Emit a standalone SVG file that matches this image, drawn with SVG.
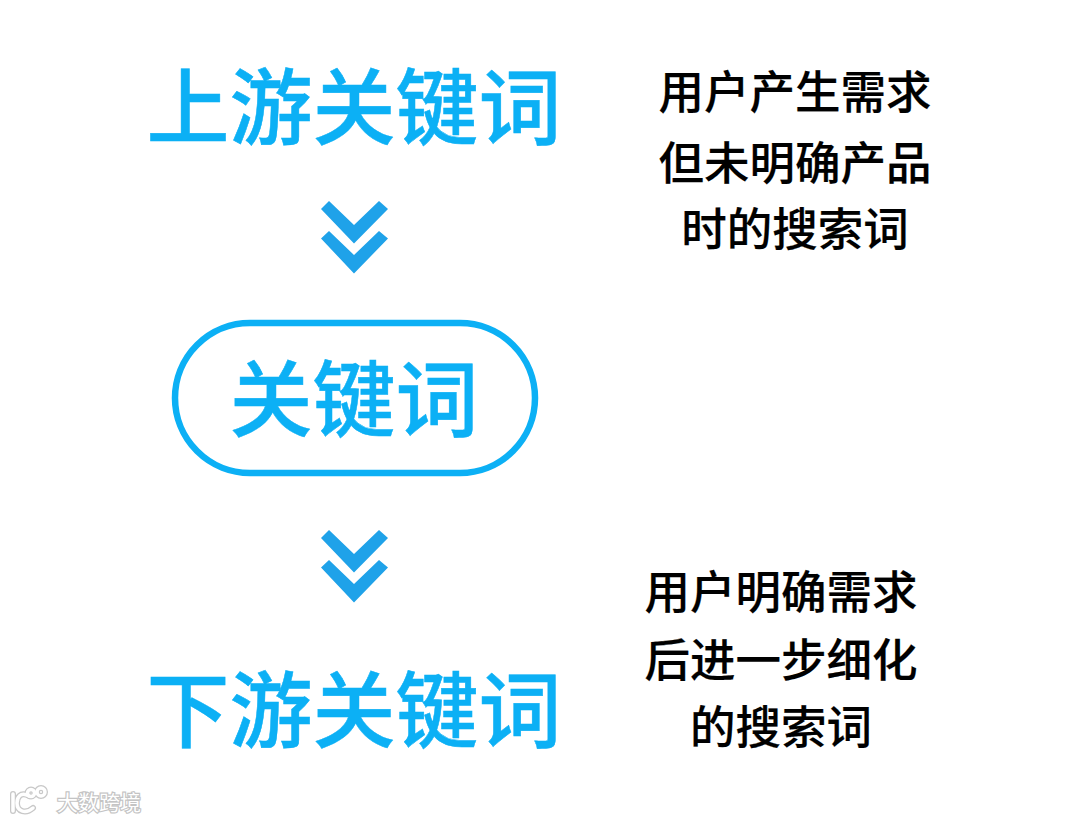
<svg xmlns="http://www.w3.org/2000/svg" width="1080" height="821" viewBox="0 0 1080 821">
<style>
text{font-family:"Noto Sans CJK SC","Noto Sans",sans-serif;text-anchor:middle}
.big{font-size:83px;font-weight:500;fill:#0cb0f5;stroke:#0cb0f5;stroke-width:.5}
.note{font-size:45.500px;font-weight:500;fill:#000;stroke:#000;stroke-width:.2}
.wm{font-size:21px;font-weight:400;fill:#fff;stroke:#c4c4c4;stroke-width:2.4;paint-order:stroke;text-anchor:start}
.chev{fill:#1fa2e9}
.logo{fill:none;stroke:#c8c8c8;stroke-width:6;stroke-linecap:round}
.logo2{fill:none;stroke:#fff;stroke-width:3.500;stroke-linecap:round}
</style>
<defs>
<g id="dbl"><path class="chev" d="M1 8L9 0L34 24L59 0L68 8L34 42.500Z"/><path class="chev" d="M1 37.500L9 30L34 54L59 30L68 37.500L34 72.500Z"/></g>
<g id="logo-shape"><path d="M13 794V811M29 796C20 791 17 798 17 803C17 812 26 814 33 808"/><circle cx="31" cy="793" r="3.500"/><circle cx="41" cy="792" r="4"/></g>
</defs>
<rect width="1080" height="821" fill="#fff"/>
<g id="upstream"><text class="big" x="354" y="138">上游关键词</text></g>
<g id="keyword"><rect x="175" y="323" width="360" height="150" rx="75" fill="none" stroke="#0cb0f5" stroke-width="6.500"/><text class="big" x="354" y="430">关键词</text></g>
<g id="downstream"><text class="big" x="354" y="741">下游关键词</text></g>
<g id="connectors"><use href="#dbl" x="320" y="201"/><use href="#dbl" x="320" y="530"/></g>
<g id="note-top"><text class="note" x="795" y="109">用户产生需求</text><text class="note" x="795" y="180">但未明确产品</text><text class="note" x="795" y="246">时的搜索词</text></g>
<g id="note-bottom"><text class="note" x="781" y="609">用户明确需求</text><text class="note" x="781" y="677">后进一步细化</text><text class="note" x="781" y="744">的搜索词</text></g>
<g id="watermark"><use href="#logo-shape" class="logo"/><use href="#logo-shape" class="logo2"/><text class="wm" x="57" y="810">大数跨境</text></g>
</svg>
